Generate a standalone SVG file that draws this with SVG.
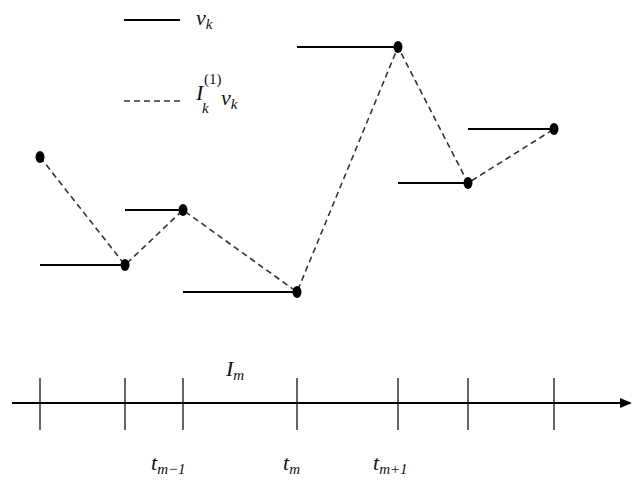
<svg xmlns="http://www.w3.org/2000/svg" width="632" height="498" viewBox="0 0 632 498">
<style>
.solid{stroke:#000;stroke-width:2;fill:none}
.dash{stroke:#333;stroke-width:1.6;fill:none;stroke-dasharray:6,4}
.tick{stroke:#000;stroke-width:1.2}
.dot{fill:#000}
text{font-family:"Liberation Serif","DejaVu Serif",serif;font-style:italic;fill:#111}
.lbl{font-size:22px}
.sub{font-size:15px}
.up{font-size:15px;font-style:normal}
</style>
<defs>
<marker id="arr" markerWidth="12" markerHeight="10" refX="10" refY="5" orient="auto" markerUnits="userSpaceOnUse">
<path d="M0,0 L12,5 L0,10 Z" fill="#000"/>
</marker>
</defs>
<g id="legend">
<line class="solid" x1="124" y1="20" x2="180" y2="20"/>
<text x="196" y="25" class="lbl">v<tspan class="sub" dy="4">k</tspan></text>
<line class="dash" x1="124" y1="101" x2="182" y2="101"/>
<text x="196" y="100" class="lbl">I</text>
<text x="204" y="84" class="up">(1)</text>
<text x="202" y="113" class="sub">k</text>
<text x="221" y="105" class="lbl">v<tspan class="sub" dy="4">k</tspan></text>
</g>
<g id="connectors">
<polyline class="dash" points="40,157 125,265 183,210 297,292 398,47 468,183 554,129"/>
<line class="solid" x1="40" y1="265" x2="125" y2="265"/>
<line class="solid" x1="125" y1="210" x2="183" y2="210"/>
<line class="solid" x1="183" y1="292" x2="297" y2="292"/>
<line class="solid" x1="297" y1="47" x2="398" y2="47"/>
<line class="solid" x1="398" y1="183" x2="468" y2="183"/>
<line class="solid" x1="468" y1="129" x2="554" y2="129"/>
</g>
<g id="points">
<ellipse class="dot" cx="40" cy="157" rx="4.5" ry="6"/>
<ellipse class="dot" cx="125" cy="265" rx="4.5" ry="6"/>
<ellipse class="dot" cx="183" cy="210" rx="4.5" ry="6"/>
<ellipse class="dot" cx="297" cy="292" rx="4.5" ry="6"/>
<ellipse class="dot" cx="398" cy="47" rx="4.5" ry="6"/>
<ellipse class="dot" cx="468" cy="183" rx="4.5" ry="6"/>
<ellipse class="dot" cx="554" cy="129" rx="4.5" ry="6"/>
</g>
<g id="axis">
<line x1="12" y1="403" x2="630" y2="403" stroke="#000" stroke-width="2" marker-end="url(#arr)"/>
<line class="tick" x1="40" y1="378" x2="40" y2="430"/>
<line class="tick" x1="125" y1="378" x2="125" y2="430"/>
<line class="tick" x1="183" y1="378" x2="183" y2="430"/>
<line class="tick" x1="297" y1="378" x2="297" y2="430"/>
<line class="tick" x1="398" y1="378" x2="398" y2="430"/>
<line class="tick" x1="468" y1="378" x2="468" y2="430"/>
<line class="tick" x1="554" y1="378" x2="554" y2="430"/>
<text x="226" y="376" class="lbl">I<tspan class="sub" dy="4">m</tspan></text>
<text x="151" y="470" class="lbl">t<tspan class="sub" dy="4">m−1</tspan></text>
<text x="283" y="470" class="lbl">t<tspan class="sub" dy="4">m</tspan></text>
<text x="373" y="470" class="lbl">t<tspan class="sub" dy="4">m+1</tspan></text>
</g>
</svg>
